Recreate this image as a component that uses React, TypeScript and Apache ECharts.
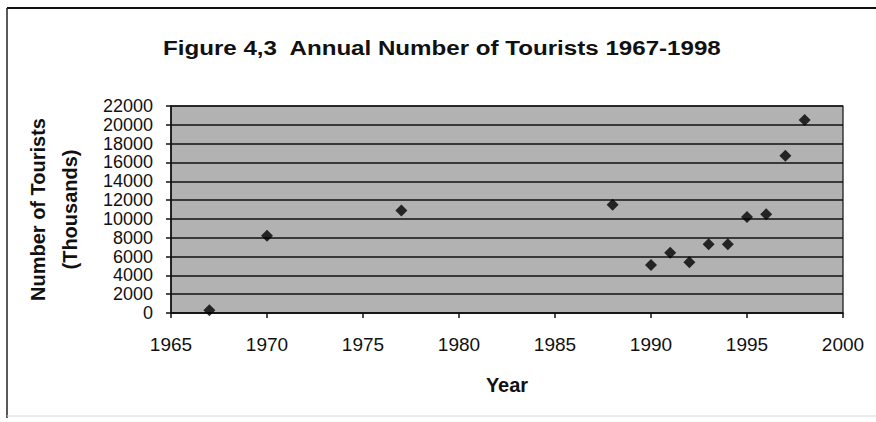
import React, { useEffect, useRef } from "react";
import * as echarts from "echarts";

// Annual tourist arrivals (thousands) for the years with a recorded count
const years = [1967, 1970, 1977, 1988, 1990, 1991, 1992, 1993, 1994, 1995, 1996, 1997, 1998];
const tourists = [300, 8200, 10900, 11500, 5100, 6400, 5400, 7300, 7300, 10200, 10500, 16700, 20500];

const yTicks = { min: 0, max: 22000, step: 2000 };
const xTicks = { min: 1965, max: 2000, step: 5 };

const FONT = "'Liberation Sans', Arial, sans-serif";

export default function App() {
  const ref = useRef<HTMLDivElement>(null);

  useEffect(() => {
    if (!ref.current) return;
    const chart = echarts.init(ref.current, undefined, { renderer: "svg" });
    const points = years.map((y, i) => [y, tourists[i]]);

    chart.setOption({
      animation: false,
      backgroundColor: "#ffffff",
      textStyle: { fontFamily: FONT },
      grid: {
        left: 171,
        right: 33,
        top: 106,
        bottom: 109,
        show: true,
        backgroundColor: "#b2b2b2",
        borderColor: "#111",
        borderWidth: 1.2,
      },
      xAxis: {
        type: "value",
        min: xTicks.min,
        max: xTicks.max,
        interval: xTicks.step,
        name: "Year",
        nameLocation: "middle",
        nameGap: 62,
        nameTextStyle: { fontFamily: FONT, fontSize: 20, fontWeight: "bold", color: "#111" },
        axisLine: { show: true, onZero: false, lineStyle: { color: "#111", width: 1.5 } },
        axisTick: { show: true, length: 5, lineStyle: { color: "#111", width: 1.5 } },
        splitLine: { show: false },
        axisLabel: {
          fontFamily: FONT,
          fontSize: 19,
          color: "#111",
          margin: 22,
          formatter: (v: number) => String(v),
        },
      },
      yAxis: {
        type: "value",
        min: yTicks.min,
        max: yTicks.max,
        interval: yTicks.step,
        name: "Number of Tourists\n(Thousands)",
        nameLocation: "middle",
        nameRotate: 90,
        nameGap: 85,
        nameTextStyle: {
          fontFamily: FONT,
          fontSize: 20,
          fontWeight: "bold",
          color: "#111",
          lineHeight: 32,
        },
        axisLine: { show: true, lineStyle: { color: "#111", width: 1.5 } },
        axisTick: { show: true, length: 5, lineStyle: { color: "#111", width: 1.5 } },
        splitLine: { show: true, lineStyle: { color: "#111", width: 1.5 } },
        axisLabel: {
          fontFamily: FONT,
          fontSize: 18,
          lineHeight: 18,
          color: "#111",
          margin: 18,
          formatter: (v: number) => String(v),
        },
      },
      graphic: [
        {
          type: "text",
          x: 163,
          y: 38,
          scaleX: 1.15,
          style: {
            text: "Figure 4,3  Annual Number of Tourists 1967-1998",
            font: `bold 21px ${FONT}`,
            fill: "#111",
            textAlign: "left",
            textVerticalAlign: "top",
          },
        },
        {
          type: "line",
          shape: { x1: 7, y1: 8, x2: 876, y2: 8 },
          style: { stroke: "#111", lineWidth: 2 },
        },
        {
          type: "line",
          shape: { x1: 7, y1: 8, x2: 7, y2: 418 },
          style: { stroke: "#222", lineWidth: 1.5 },
        },
        {
          type: "line",
          shape: { x1: 7, y1: 416, x2: 876, y2: 416 },
          style: { stroke: "#d8d8d8", lineWidth: 1 },
        },
      ],
      series: [
        {
          type: "scatter",
          data: points,
          symbol: "diamond",
          symbolSize: 12,
          itemStyle: { color: "#000" },
        },
      ],
    });

    return () => chart.dispose();
  }, []);

  return (
    <div
      ref={ref}
      style={{ position: "fixed", left: 0, top: 0, width: 876, height: 422, background: "#fff" }}
    />
  );
}
